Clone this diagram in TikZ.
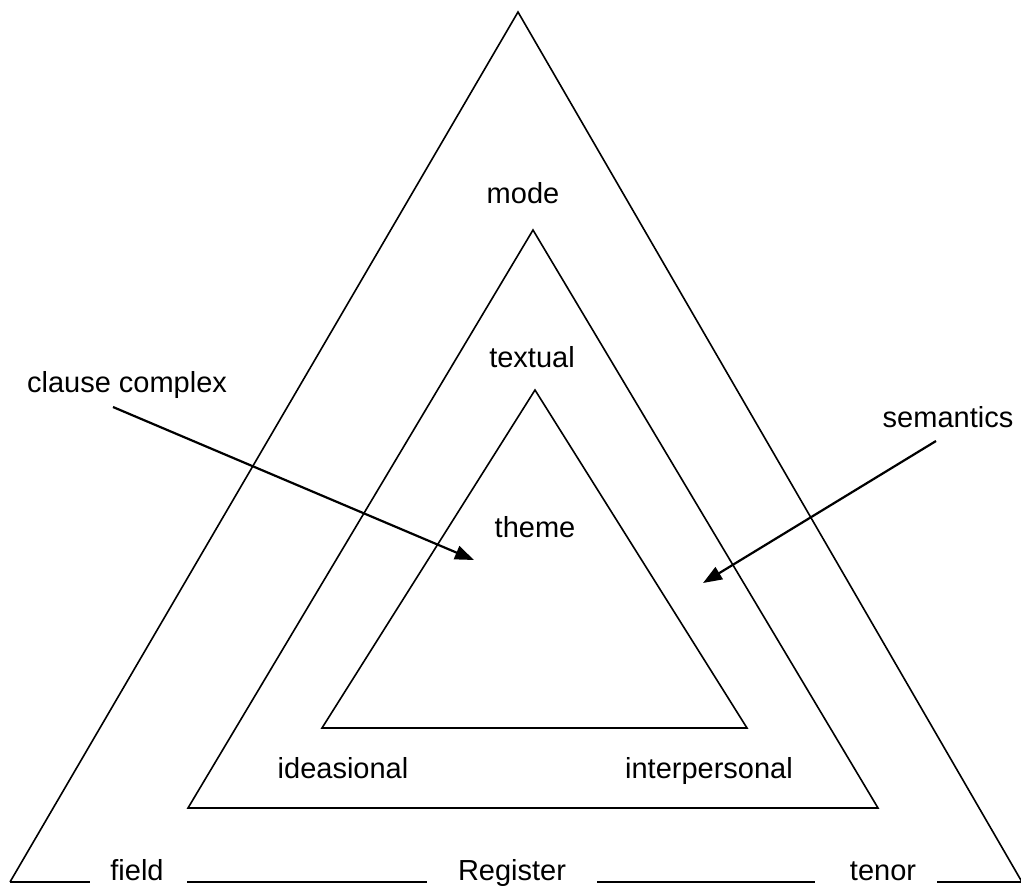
\documentclass[tikz,border=0pt]{standalone}
\usepackage{fontspec}
\setmainfont{Liberation Sans}
\usetikzlibrary{arrows.meta}
\begin{document}
\begin{tikzpicture}[x=1pt,y=-1pt,
  edge/.style={line width=1.6pt,line join=miter},
  lbl/.style={inner sep=0pt,anchor=base,font=\fontsize{29}{34}\selectfont},
  pointer/.style={line width=2.2pt,-{Triangle[length=19pt,width=14pt]}}]
\useasboundingbox (0,0) rectangle (1021,887);
% corners of the three nested triangles
\coordinate (oTop) at (518,12);
\coordinate (oL) at (10,882);
\coordinate (oR) at (1022,882);
\coordinate (mTop) at (533,230);
\coordinate (mL) at (188,808);
\coordinate (mR) at (878,808);
\coordinate (iTop) at (535,390);
\coordinate (iL) at (322,728);
\coordinate (iR) at (747,728);
% outer triangle: two sides and a broken base
\draw[edge] (oL) -- (oTop) -- (oR);
\coordinate (b1) at (90,882);
\coordinate (b2) at (187,882);
\coordinate (b3) at (427,882);
\coordinate (b4) at (597,882);
\coordinate (b5) at (815,882);
\coordinate (b6) at (937,882);
\draw[edge] (oL) -- (b1);
\draw[edge] (b2) -- (b3);
\draw[edge] (b4) -- (b5);
\draw[edge] (b6) -- (oR);
% middle and inner triangles
\draw[edge] (mTop) -- (mR) -- (mL) -- cycle;
\draw[edge] (iTop) -- (iR) -- (iL) -- cycle;
% labels
\node[lbl] (mode) at (523,203) {mode};
\node[lbl] (textual) at (532,367) {textual};
\node[lbl] (theme) at (535,537) {theme};
\node[lbl] (ideas) at (343,778) {ideasional};
\node[lbl] (inter) at (709,778) {interpersonal};
\node[lbl] (field) at (137,880) {field};
\node[lbl] (register) at (512,880) {Register};
\node[lbl] (tenor) at (883,880) {tenor};
\node[lbl] (clause) at (127,392) {clause complex};
\node[lbl] (sem) at (948,427) {semantics};
% pointers
\coordinate (cStart) at (113,407);
\coordinate (cEnd) at (474,560);
\coordinate (sStart) at (936,441);
\coordinate (sEnd) at (703,583);
\draw[pointer] (cStart) -- (cEnd);
\draw[pointer] (sStart) -- (sEnd);
\end{tikzpicture}
\end{document}
